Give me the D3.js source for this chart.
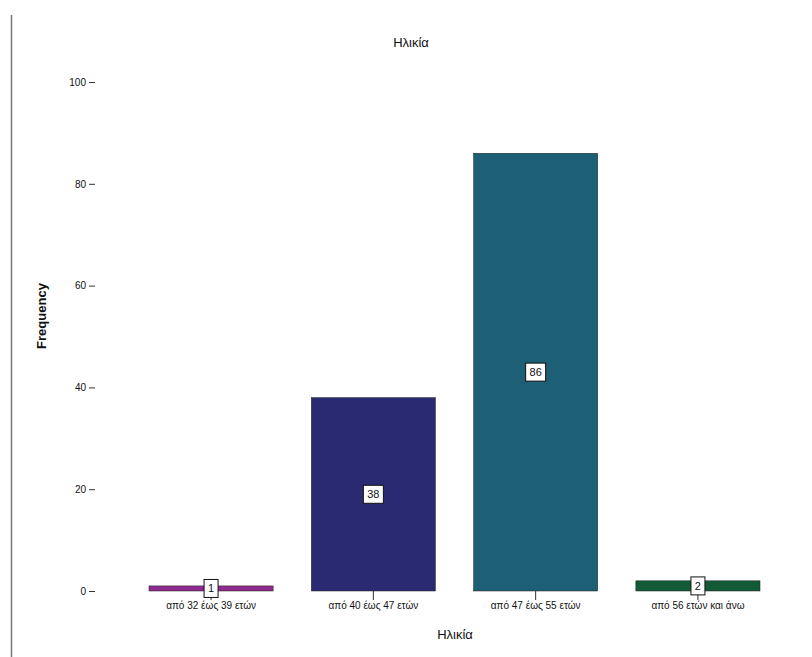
<!DOCTYPE html>
<html>
<head>
<meta charset="utf-8">
<script src="https://cdn.jsdelivr.net/npm/d3@7"></script>
<style>
  html, body { margin: 0; padding: 0; background: #fff; }
  svg { display: block; font-family: "Liberation Sans", Arial, sans-serif; }
</style>
</head>
<body>
<svg id="chart" width="812" height="657"></svg>
<script>
// Age groups and their frequencies
const categories = ["από 32 έως 39 ετών", "από 40 έως 47 ετών", "από 47 έως 55 ετών", "από 56 ετών και άνω"];
const frequencies = [1, 38, 86, 2];
const barColors = ["#8e2a8e", "#2a2a72", "#1d5f74", "#135a36"];
const yTicks = [0, 20, 40, 60, 80, 100];

const svg = d3.select("#chart");

// Frame line on the left
svg.append("line")
  .attr("x1", 11.5).attr("x2", 11.5)
  .attr("y1", 15).attr("y2", 657)
  .attr("stroke", "#777").attr("stroke-width", 1.5);

const x = d3.scaleBand()
  .domain(categories)
  .range([130, 779])
  .paddingInner(0.235)
  .paddingOuter(0.117);

const y = d3.scaleLinear()
  .domain([0, 100])
  .range([591, 82]);

// Y axis (ticks only)
const yAxis = svg.append("g")
  .attr("transform", "translate(95,0)")
  .call(d3.axisLeft(y).tickValues(yTicks).tickSize(6).tickPadding(3));
yAxis.select(".domain").remove();
yAxis.selectAll("line").attr("stroke", "#333");
yAxis.selectAll("text").attr("font-size", 10).attr("fill", "#111");

// Bars
svg.append("g").selectAll("rect")
  .data(categories)
  .join("rect")
  .attr("x", d => x(d))
  .attr("width", x.bandwidth())
  .attr("y", (d, i) => y(frequencies[i]))
  .attr("height", (d, i) => y(0) - y(frequencies[i]))
  .attr("fill", (d, i) => barColors[i])
  .attr("stroke", "#222")
  .attr("stroke-width", 0.5);

// X axis (ticks only, below bar centres)
const xAxis = svg.append("g")
  .attr("transform", `translate(0,${y(0)})`)
  .call(d3.axisBottom(x).tickSize(9).tickPadding(0));
xAxis.select(".domain").remove();
xAxis.selectAll("line").attr("stroke", "#333");
xAxis.selectAll("text")
  .attr("font-size", 10)
  .attr("fill", "#111")
  .attr("dy", "0.9em");

// Value labels in boxes at bar mid-height
const labels = svg.append("g").selectAll("g")
  .data(categories)
  .join("g")
  .attr("transform", (d, i) => `translate(${x(d) + x.bandwidth() / 2},${(y(0) + y(frequencies[i])) / 2})`);
labels.append("rect")
  .attr("x", (d, i) => String(frequencies[i]).length > 1 ? -10 : -7)
  .attr("width", (d, i) => String(frequencies[i]).length > 1 ? 20 : 14)
  .attr("y", -9).attr("height", 18)
  .attr("fill", "#fff")
  .attr("stroke", "#111").attr("stroke-width", 1);
labels.append("text")
  .attr("text-anchor", "middle")
  .attr("dy", "0.35em")
  .attr("font-size", 11)
  .attr("fill", "#111")
  .text((d, i) => frequencies[i]);

// Titles
svg.append("text")
  .attr("x", 411).attr("y", 47)
  .attr("text-anchor", "middle")
  .attr("font-size", 13)
  .attr("fill", "#111")
  .text("Ηλικία");

svg.append("text")
  .attr("x", 455).attr("y", 639)
  .attr("text-anchor", "middle")
  .attr("font-size", 13)
  .attr("fill", "#111")
  .text("Ηλικία");

svg.append("text")
  .attr("transform", "translate(46,316) rotate(-90)")
  .attr("text-anchor", "middle")
  .attr("font-size", 13)
  .attr("font-weight", "bold")
  .attr("fill", "#111")
  .text("Frequency");
</script>
</body>
</html>
